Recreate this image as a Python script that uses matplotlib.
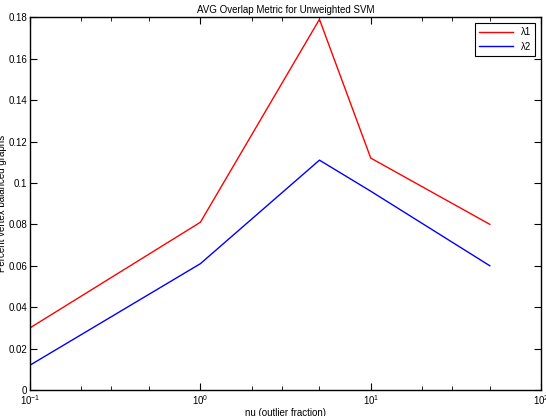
import matplotlib
matplotlib.use("Agg")
import matplotlib.pyplot as plt
from matplotlib.ticker import FixedLocator, NullFormatter

plt.rcParams['font.family'] = ['Liberation Sans', 'DejaVu Sans']
plt.rcParams['mathtext.fontset'] = 'custom'
plt.rcParams['mathtext.rm'] = 'Liberation Sans'

# data
nu = [0.1, 1, 5, 10, 50]
lambda1 = [0.030, 0.081, 0.179, 0.112, 0.080]
lambda2 = [0.012, 0.061, 0.111, 0.096, 0.060]
yticks = [0, 0.02, 0.04, 0.06, 0.08, 0.1, 0.12, 0.14, 0.16, 0.18]
ytick_labels = ["0", "0.02", "0.04", "0.06", "0.08", "0.1", "0.12", "0.14", "0.16", "0.18"]
xticks = [0.1, 1, 10, 100]
xtick_labels = [r"$10^{-1}$", r"$10^{0}$", r"$10^{1}$", r"$10^{2}$"]

fig = plt.figure(figsize=(5.46, 4.16), dpi=100)
ax = fig.add_axes([0.055, 0.0625, 0.936, 0.896])

ax.plot(nu, lambda1, color="red", linewidth=1, label="λ1")
ax.plot(nu, lambda2, color="blue", linewidth=1, label="λ2")

ax.set_xscale("log")
ax.set_xlim(0.1, 100)
ax.set_ylim(0, 0.18)
ax.set_xticks(xticks)
ax.set_xticklabels(xtick_labels)
ax.xaxis.set_minor_locator(FixedLocator([m * d for d in (0.1, 1, 10) for m in (2, 3, 5)]))
ax.xaxis.set_minor_formatter(NullFormatter())
ax.set_yticks(yticks)
ax.set_yticklabels(ytick_labels)

ax.tick_params(which="both", direction="in", top=True, right=True, labelsize=7, pad=2)
ax.tick_params(which="major", length=5)
ax.tick_params(which="minor", length=3)
for s in ax.spines.values():
    s.set_linewidth(1)

ax.set_title("AVG Overlap Metric for Unweighted SVM", fontsize=7, pad=3)
ax.set_xlabel("nu (outlier fraction)", fontsize=7, labelpad=1)
ax.set_ylabel("Percent vertex balanced graphs", fontsize=7, labelpad=1)

leg = ax.legend(loc="upper right", fontsize=7, fancybox=False, edgecolor="black",
                framealpha=1, handlelength=3.5, borderaxespad=0.6)
leg.get_frame().set_linewidth(0.8)

fig.savefig("out.png", dpi=100)
